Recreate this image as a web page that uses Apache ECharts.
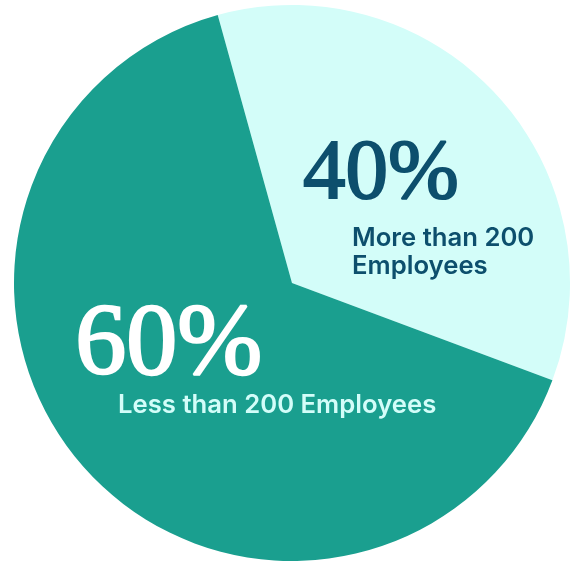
<!DOCTYPE html>
<html><head><meta charset="utf-8">
<script src="https://cdn.jsdelivr.net/npm/echarts@6/dist/echarts.min.js"></script>
<style>html,body{margin:0;padding:0;background:#fff}#c{width:573px;height:562px}</style>
</head><body><div id="c"></div>
<script>
// Categories and values
var categories = ['More than 200 Employees', 'Less than 200 Employees'];
var categoryLines = [['More than 200', 'Employees'], ['Less than 200 Employees']];
// Slice shares as drawn in the picture (angle measured ~126° for the light slice)
var sliceShares = [35, 65];
// Printed percentage labels
var percentLabels = ['40%', '60%'];

var colors = ['#D3FDF9', '#1A9F8F'];
var chart = echarts.init(document.getElementById('c'));
chart.setOption({
  animation: false,
  series: [{
    type: 'pie',
    center: [292, 283],
    radius: 278,
    startAngle: 105.5,
    clockwise: true,
    label: {show: false},
    labelLine: {show: false},
    itemStyle: {borderWidth: 0},
    emphasis: {disabled: true},
    data: categories.map(function (c, i) {
      return {name: c, value: sliceShares[i], itemStyle: {color: colors[i]}};
    })
  }],
  graphic: {
    elements: [
      {type: 'text', z: 100, left: 302, top: 132, style: {text: percentLabels[0], font: 'normal 85px "Liberation Serif"', fill: '#0D4F6D', stroke: '#0D4F6D', lineWidth: 2}},
      {type: 'text', z: 100, left: 352, top: 224, style: {text: categoryLines[0].join('\n'), font: '600 25.7px Inter', lineHeight: 28, fill: '#0D4F6D'}},
      {type: 'text', z: 100, left: 74, top: 295, style: {text: percentLabels[1], font: 'normal 102px "Liberation Serif"', fill: '#FFFFFF', stroke: '#FFFFFF', lineWidth: 2.4}},
      {type: 'text', z: 100, left: 118, top: 391, style: {text: categoryLines[1][0], font: '600 25.7px Inter', lineHeight: 28, fill: '#D3FDF9'}}
    ]
  }
});
</script></body></html>
